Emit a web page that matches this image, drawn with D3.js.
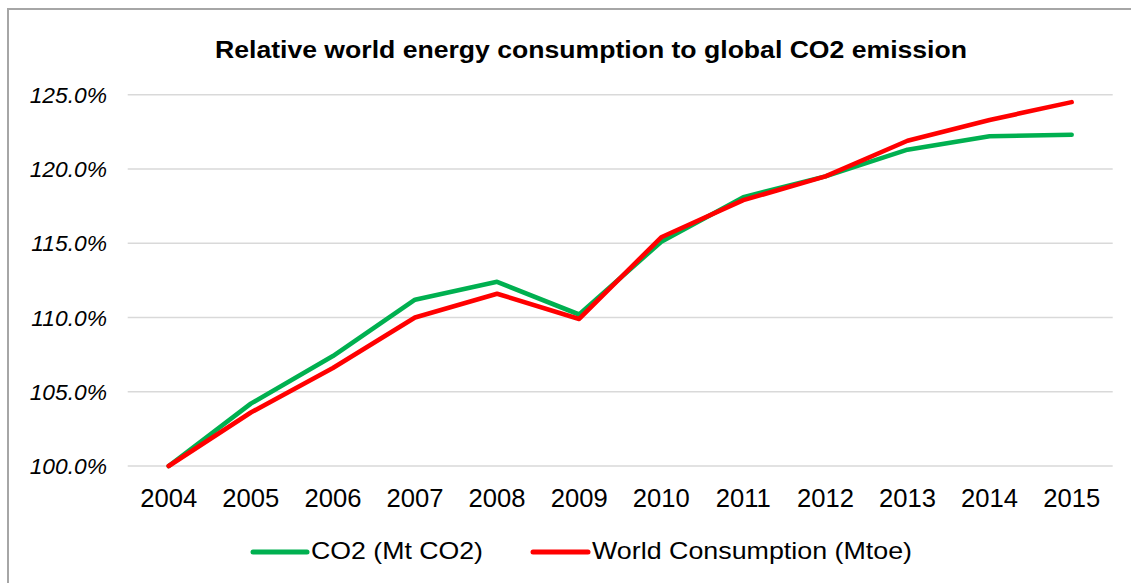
<!DOCTYPE html>
<html>
<head>
<meta charset="utf-8">
<script src="https://cdn.jsdelivr.net/npm/d3@7"></script>
<style>
  html, body { margin: 0; padding: 0; background: #fff; }
  svg { display: block; }
  text { font-family: "Liberation Sans", Arial, sans-serif; fill: #000; }
</style>
</head>
<body>
<script>
// Years on the category axis
const years = ["2004", "2005", "2006", "2007", "2008", "2009", "2010", "2011", "2012", "2013", "2014", "2015"];
// Emissions relative to 2004
const co2 = [1.000, 1.042, 1.074, 1.112, 1.124, 1.102, 1.151, 1.181, 1.195, 1.213, 1.222, 1.223];
// Energy consumption relative to 2004
const consumption = [1.000, 1.036, 1.066, 1.100, 1.116, 1.099, 1.154, 1.179, 1.195, 1.219, 1.233, 1.245];
// Gridline / tick values
const yTicks = [1.00, 1.05, 1.10, 1.15, 1.20, 1.25];

const seriesNames = ["CO2 (Mt CO2)", "World Consumption (Mtoe)"];
const seriesColors = ["#00b050", "#ff0000"];
const seriesData = [co2, consumption];

const W = 1131, H = 583;
const svg = d3.select("body").append("svg").attr("width", W).attr("height", H);

// chart frame
svg.append("path")
  .attr("d", `M8,${H + 5} L8,9 L${W + 5},9`)
  .attr("fill", "none").attr("stroke", "#a6a6a6").attr("stroke-width", 2);

const x = d3.scaleBand().domain(years).range([127.7, 1112.7]);
const y = d3.scaleLinear().domain([1.0, 1.25]).range([466, 94.7]);

// horizontal gridlines
svg.append("g").selectAll("line").data(yTicks).join("line")
  .attr("x1", x.range()[0]).attr("x2", x.range()[1])
  .attr("y1", d => y(d)).attr("y2", d => y(d))
  .attr("stroke", "#d9d9d9").attr("stroke-width", 1.5);

// y-axis labels
const fmt = d3.format(".1%");
svg.append("g").selectAll("text").data(yTicks).join("text")
  .attr("x", 107).attr("y", d => y(d)).attr("dy", "0.36em")
  .attr("text-anchor", "end")
  .style("font-size", "22.8px").style("font-style", "italic")
  .text(d => fmt(d));

// x-axis labels
svg.append("g").selectAll("text").data(years).join("text")
  .attr("x", d => x(d) + x.bandwidth() / 2).attr("y", 506.5)
  .attr("text-anchor", "middle")
  .style("font-size", "25.6px")
  .text(d => d);

// series lines
const line = d3.line()
  .x((d, i) => x(years[i]) + x.bandwidth() / 2)
  .y(d => y(d));

seriesData.forEach((vals, k) => {
  svg.append("path")
    .datum(vals)
    .attr("d", line)
    .attr("fill", "none")
    .attr("stroke", seriesColors[k])
    .attr("stroke-width", 4.6)
    .attr("stroke-linecap", "round")
    .attr("stroke-linejoin", "round");
});

// title
svg.append("text")
  .attr("x", 591).attr("y", 58)
  .attr("text-anchor", "middle")
  .style("font-size", "23px").style("font-weight", "bold")
  .attr("textLength", 752).attr("lengthAdjust", "spacingAndGlyphs")
  .text("Relative world energy consumption to global CO2 emission");

// legend
const legendItems = [
  { x0: 253, x1: 307, tx: 311, tw: 172 },
  { x0: 533, x1: 588, tx: 592, tw: 320 }
];
const lg = svg.append("g");
legendItems.forEach((it, k) => {
  lg.append("line")
    .attr("x1", it.x0).attr("x2", it.x1).attr("y1", 552).attr("y2", 552)
    .attr("stroke", seriesColors[k]).attr("stroke-width", 5)
    .attr("stroke-linecap", "round");
  lg.append("text")
    .attr("x", it.tx).attr("y", 559)
    .style("font-size", "24px")
    .attr("textLength", it.tw).attr("lengthAdjust", "spacingAndGlyphs")
    .text(seriesNames[k]);
});
</script>
</body>
</html>
